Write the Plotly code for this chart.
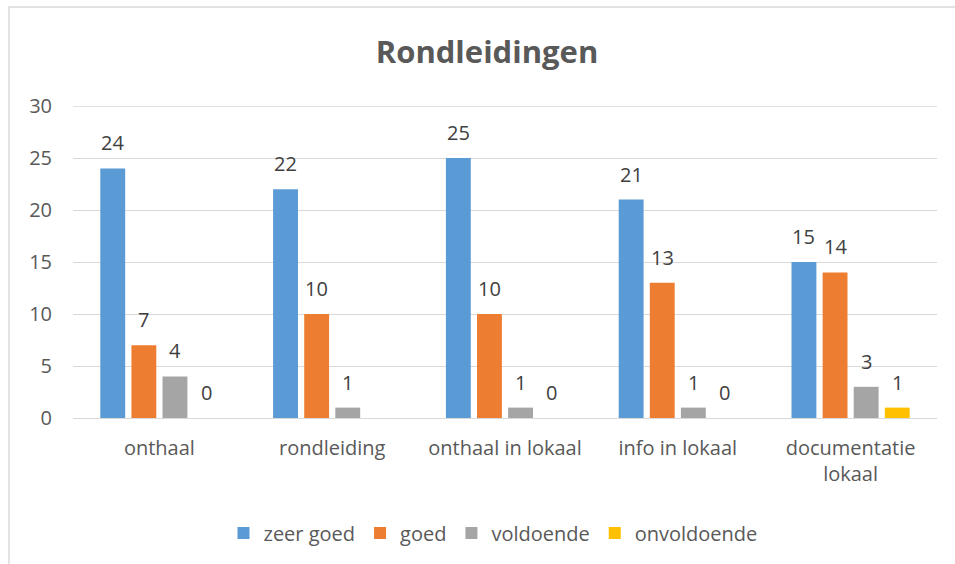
import plotly.graph_objects as go

categories = ["onthaal", "rondleiding", "onthaal in lokaal", "info in lokaal", "documentatie<br>lokaal"]
series_names = ["zeer goed", "goed", "voldoende", "onvoldoende"]
zeer_goed = [24, 22, 25, 21, 15]
goed = [7, 10, 10, 13, 14]
voldoende = [4, 1, 1, 1, 3]
onvoldoende = [0, None, 0, 0, 1]
y_ticks = [0, 5, 10, 15, 20, 25, 30]
title_text = "Rondleidingen"

series_values = [zeer_goed, goed, voldoende, onvoldoende]
colors = ["#5B9BD5", "#ED7D31", "#A5A5A5", "#FFC000"]

FONT = "Open Sans"
BARGAP = 0.28
N = len(series_values)
GRID = "#d9d9d9"

fig = go.Figure()
for name, vals, col in zip(series_names, series_values, colors):
    fig.add_trace(go.Bar(x=categories, y=vals, name=name, marker_color=col,
                         marker_line_width=0))

annotations = []
slot = (1 - BARGAP) / N
for i, vals in enumerate(series_values):
    for j, v in enumerate(vals):
        if v is None:
            continue
        annotations.append(dict(
            x=j + (i - (N - 1) / 2) * slot, y=v, xref="x", yref="y",
            text=str(v), showarrow=False, yanchor="bottom", yshift=10,
            font=dict(family=FONT, size=20, color="#404040")))

fig.update_layout(
    width=955, height=564,
    margin=dict(l=73, r=18, t=106, b=146, autoexpand=False),
    paper_bgcolor="white", plot_bgcolor="white",
    barmode="group", bargap=BARGAP, bargroupgap=0.2,
    title=dict(text=title_text, x=(487 - 73) / 864, xref="paper", xanchor="center",
               y=1 - 52 / 564, yanchor="middle",
               font=dict(family=FONT, size=31, color="#595959", weight="bold")),
    font=dict(family=FONT, size=20, color="#595959"),
    showlegend=True,
    legend=dict(orientation="h", x=(493 - 73) / 864, xanchor="center",
                y=(418 - 533) / 312, yanchor="middle",
                font=dict(family=FONT, size=20, color="#595959"),
                itemwidth=30, traceorder="normal"),
    annotations=annotations,
    shapes=[
        dict(type="rect", xref="paper", yref="paper",
             x0=(9 - 73) / 864, x1=1.1, y0=(418 - 7) / 312, y1=-0.6,
             line=dict(color=GRID, width=1.5), fillcolor="rgba(0,0,0,0)",
             layer="below"),
        dict(type="line", xref="paper", yref="y", x0=0, x1=1,
             y0=y_ticks[-1], y1=y_ticks[-1], line=dict(color=GRID, width=1.3),
             layer="below"),
    ],
)
fig.update_yaxes(range=[0, 30], tickvals=y_ticks, showgrid=True, gridcolor=GRID,
                 gridwidth=1.3, zeroline=True, zerolinecolor=GRID, zerolinewidth=1.3,
                 showline=False, ticks="", ticklabelstandoff=20, automargin=False,
                 tickfont=dict(family=FONT, size=20, color="#595959"))
fig.update_xaxes(showgrid=False, showline=False, ticks="", ticklabelstandoff=16,
                 automargin=False,
                 tickfont=dict(family=FONT, size=20, color="#595959"))

fig.write_html("out.html", config={"displayModeBar": False},
               post_script="document.body.style.margin='0';document.body.style.overflow='hidden';")
